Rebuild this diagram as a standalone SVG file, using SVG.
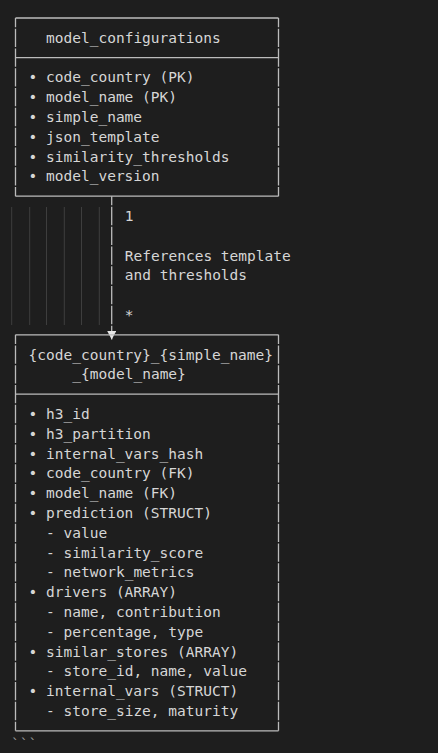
<svg xmlns="http://www.w3.org/2000/svg" width="438" height="753" viewBox="0 0 438 753">
<style>
.t{font-family:"DejaVu Sans Mono","Liberation Mono",monospace;font-size:14.5px;fill:#d6d6d6;white-space:pre}
.b{fill:none;stroke:#bcbcbc;stroke-width:1.3}
.v{fill:none;stroke:#bcbcbc;stroke-width:1.3;stroke-dasharray:18.3 1.5;stroke-dashoffset:9.15}
.g{stroke:#3e3e3e;stroke-width:1}
</style>
<defs>
<marker id="arr" markerUnits="userSpaceOnUse" markerWidth="10" markerHeight="10" refX="9" refY="4.5" orient="auto" viewBox="0 0 10 10">
<path d="M0.5,0 L9,4.5 L0.5,9 Z" fill="#e6e6e6"/>
</marker>
</defs>
<rect x="0" y="0" width="438" height="753" fill="#1e1e1e"/>
<g id="guides">
<line class="g" x1="11.7" y1="207" x2="11.7" y2="325"/>
<line class="g" x1="29.7" y1="207" x2="29.7" y2="325"/>
<line class="g" x1="46.5" y1="207" x2="46.5" y2="325"/>
<line class="g" x1="64.3" y1="207" x2="64.3" y2="325"/>
<line class="g" x1="81.5" y1="207" x2="81.5" y2="325"/>
<line class="g" x1="99.3" y1="207" x2="99.3" y2="325"/>
</g>
<g id="model_configurations">
<path class="b" d="M15.5,18 H278.5 M15.5,57.6 H278.5 M15.5,196.2 H278.5"/>
<path class="v" d="M15.5,18 V196.2 M278.5,18 V196.2"/>
<text class="t" x="46.1" y="43">model_configurations</text>
<text class="t" x="28.6" y="82.4">• code_country (PK)</text>
<text class="t" x="28.6" y="102.2">• model_name (PK)</text>
<text class="t" x="28.6" y="122">• simple_name</text>
<text class="t" x="28.6" y="141.8">• json_template</text>
<text class="t" x="28.6" y="161.6">• similarity_thresholds</text>
<text class="t" x="28.6" y="181.4">• model_version</text>
</g>
<g id="connectors">
<path class="v" d="M111.7,196.2 V339.5" marker-end="url(#arr)"/>
<text class="t" x="124.85" y="221">1</text>
<text class="t" x="124.85" y="260.6">References template</text>
<text class="t" x="124.85" y="280.4">and thresholds</text>
<text class="t" x="124.85" y="320">*</text>
</g>
<g id="predictions">
<path class="b" d="M15.5,334.8 H278.5 M15.5,394.2 H278.5 M15.5,730.8 H278.5"/>
<path class="v" d="M15.5,334.8 V730.8 M278.5,334.8 V730.8"/>
<text class="t" x="28.6" y="359.6">{code_country}_{simple_name}</text>
<text class="t" x="72.35" y="379.4">_{model_name}</text>
<text class="t" x="28.6" y="419">• h3_id</text>
<text class="t" x="28.6" y="438.8">• h3_partition</text>
<text class="t" x="28.6" y="458.6">• internal_vars_hash</text>
<text class="t" x="28.6" y="478.4">• code_country (FK)</text>
<text class="t" x="28.6" y="498.2">• model_name (FK)</text>
<text class="t" x="28.6" y="518">• prediction (STRUCT)</text>
<text class="t" x="46.1" y="537.8">- value</text>
<text class="t" x="46.1" y="557.6">- similarity_score</text>
<text class="t" x="46.1" y="577.4">- network_metrics</text>
<text class="t" x="28.6" y="597.2">• drivers (ARRAY)</text>
<text class="t" x="46.1" y="617">- name, contribution</text>
<text class="t" x="46.1" y="636.8">- percentage, type</text>
<text class="t" x="28.6" y="656.6">• similar_stores (ARRAY)</text>
<text class="t" x="46.1" y="676.4">- store_id, name, value</text>
<text class="t" x="28.6" y="696.2">• internal_vars (STRUCT)</text>
<text class="t" x="46.1" y="716">- store_size, maturity</text>
</g>
<text class="t" x="11.1" y="749" style="fill:#9a9a9a">```</text>
</svg>
